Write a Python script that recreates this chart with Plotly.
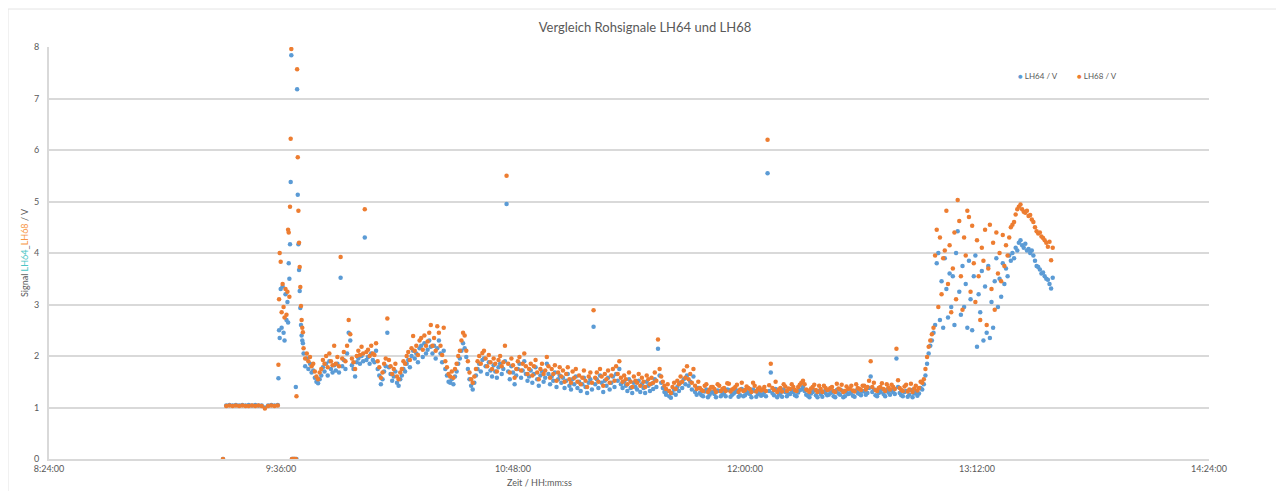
import plotly.graph_objects as go

# ---------------- data (time in minutes of day, values in V) ----------------
# flat start segment
t_flat = [558, 559, 560, 561, 562, 563, 564, 565, 566, 567, 568, 569, 570, 571, 572, 573, 574, 575]
b_flat = [0.00, 1.04, 1.05, 1.04, 1.05, 1.04, 1.05, 1.04, 1.05, 1.04, 1.05, 1.04, 1.04, 1.00, 1.04, 1.05, 1.04, 1.05]
o_flat = [0.00, 1.03, 1.04, 1.03, 1.04, 1.03, 1.04, 1.03, 1.03, 1.04, 1.03, 1.04, 1.03, 0.98, 1.03, 1.04, 1.03, 1.04]

# spike segment
t_spike = [575.2, 575.4, 575.6, 575.9, 576.2, 576.5, 576.8, 577.1, 577.4, 577.7, 578.0, 578.2, 578.4, 578.6,
           578.8, 579.0, 579.2, 579.4, 579.7, 580.0, 580.3, 580.6, 580.8, 581.0, 581.2, 581.4, 581.6, 581.8,
           582.0, 582.2, 582.4, 582.6, 582.8]
b_spike = [1.57, 2.50, 2.35, 3.30, 2.55, 3.35, 2.45, 2.30, 3.20, 2.70, 3.05, 2.65, 3.80, 3.50,
           4.17, 5.38, 7.84, 0.00, 0.00, 0.00, 0.00, 1.40, 0.00, 7.18, 5.13, 4.17, 3.67, 3.26,
           2.93, 2.60, 2.40, 2.30, 2.25]
o_spike = [1.83, 3.10, 4.00, 3.83, 2.85, 3.40, 2.95, 2.75, 3.30, 2.80, 3.25, 4.45, 4.40, 3.15,
           4.90, 6.22, 7.96, 0.00, 0.00, 0.00, 0.00, 0.00, 1.22, 7.57, 5.86, 4.82, 4.20, 3.73,
           3.34, 2.97, 2.70, 2.55, 2.46]

# main noisy band (0.5 min sampling)
t_band = [583.0, 583.5, 584.0, 584.5, 585.0, 585.5, 586.0, 586.5, 587.0, 587.5, 588.0, 588.5, 589.0, 589.5, 590.0, 590.5, 591.0, 591.5, 592.0, 592.5,
          593.0, 593.5, 594.0, 594.5, 595.0, 595.5, 596.0, 596.5, 597.0, 597.5, 598.0, 598.5, 599.0, 599.5, 600.0, 600.5, 601.0, 601.5, 602.0, 602.5,
          603.0, 603.5, 604.0, 604.5, 605.0, 605.5, 606.0, 606.5, 607.0, 607.5, 608.0, 608.5, 609.0, 609.5, 610.0, 610.5, 611.0, 611.5, 612.0, 612.5,
          613.0, 613.5, 614.0, 614.5, 615.0, 615.5, 616.0, 616.5, 617.0, 617.5, 618.0, 618.5, 619.0, 619.5, 620.0, 620.5, 621.0, 621.5, 622.0, 622.5,
          623.0, 623.5, 624.0, 624.5, 625.0, 625.5, 626.0, 626.5, 627.0, 627.5, 628.0, 628.5, 629.0, 629.5, 630.0, 630.5, 631.0, 631.5, 632.0, 632.5,
          633.0, 633.5, 634.0, 634.5, 635.0, 635.5, 636.0, 636.5, 637.0, 637.5, 638.0, 638.5, 639.0, 639.5, 640.0, 640.5, 641.0, 641.5, 642.0, 642.5,
          643.0, 643.5, 644.0, 644.5, 645.0, 645.5, 646.0, 646.5, 647.0, 647.5, 648.0, 648.5, 649.0, 649.5, 650.0, 650.5, 651.0, 651.5, 652.0, 652.5,
          653.0, 653.5, 654.0, 654.5, 655.0, 655.5, 656.0, 656.5, 657.0, 657.5, 658.0, 658.5, 659.0, 659.5, 660.0, 660.5, 661.0, 661.5, 662.0, 662.5,
          663.0, 663.5, 664.0, 664.5, 665.0, 665.5, 666.0, 666.5, 667.0, 667.5, 668.0, 668.5, 669.0, 669.5, 670.0, 670.5, 671.0, 671.5, 672.0, 672.5,
          673.0, 673.5, 674.0, 674.5, 675.0, 675.5, 676.0, 676.5, 677.0, 677.5, 678.0, 678.5, 679.0, 679.5, 680.0, 680.5, 681.0, 681.5, 682.0, 682.5,
          683.0, 683.5, 684.0, 684.5, 685.0, 685.5, 686.0, 686.5, 687.0, 687.5, 688.0, 688.5, 689.0, 689.5, 690.0, 690.5, 691.0, 691.5, 692.0, 692.5,
          693.0, 693.5, 694.0, 694.5, 695.0, 695.5, 696.0, 696.5, 697.0, 697.5, 698.0, 698.5, 699.0, 699.5, 700.0, 700.5, 701.0, 701.5, 702.0, 702.5,
          703.0, 703.5, 704.0, 704.5, 705.0, 705.5]
b_band = [2.05, 1.80, 1.95, 1.75, 1.85, 1.68, 1.72, 1.58, 1.50, 1.47, 1.55, 1.62, 1.78, 1.70, 1.85, 1.62, 1.90, 1.75, 1.68, 1.82,
          1.72, 1.85, 1.68, 3.52, 1.80, 1.92, 1.75, 2.05, 2.45, 2.30, 1.82, 1.75, 1.60, 1.88, 1.95, 1.85, 2.00, 1.90, 4.30, 1.92,
          1.98, 1.85, 2.05, 1.92, 1.88, 2.10, 1.75, 1.62, 1.45, 1.55, 1.70, 1.80, 2.45, 1.78, 1.65, 1.52, 1.60, 1.70, 1.48, 1.42,
          1.55, 1.62, 1.75, 1.70, 1.85, 1.92, 1.78, 2.00, 2.10, 1.95, 2.05, 1.88, 2.15, 2.20, 1.98, 2.25, 2.05, 2.12, 2.30, 2.18,
          2.05, 2.20, 1.95, 2.15, 2.30, 2.05, 1.88, 2.10, 1.75, 1.62, 1.50, 1.48, 1.55, 1.45, 1.60, 1.70, 1.85, 1.95, 2.10, 2.25,
          2.15, 1.98, 1.75, 1.55, 1.42, 1.35, 1.48, 1.62, 1.75, 1.85, 1.70, 1.92, 1.95, 1.80, 1.65, 1.88, 1.72, 1.60, 1.82, 1.70,
          1.58, 1.78, 1.85, 1.65, 1.75, 1.90, 4.95, 1.70, 1.55, 1.80, 1.68, 1.45, 1.62, 1.75, 1.85, 1.58, 1.72, 1.90, 1.65, 1.52,
          1.60, 1.72, 1.48, 1.65, 1.78, 1.55, 1.42, 1.62, 1.70, 1.50, 1.58, 1.85, 1.65, 1.45, 1.60, 1.52, 1.68, 1.40, 1.55, 1.62,
          1.48, 1.58, 1.38, 1.52, 1.65, 1.42, 1.35, 1.55, 1.45, 1.60, 1.38, 1.50, 1.32, 1.45, 1.58, 1.40, 1.28, 1.48, 1.55, 1.35,
          2.57, 1.45, 1.55, 1.38, 1.62, 1.48, 1.30, 1.52, 1.42, 1.58, 1.35, 1.48, 1.60, 1.40, 1.65, 1.52, 1.75, 1.45, 1.38, 1.50,
          1.42, 1.32, 1.55, 1.38, 1.28, 1.48, 1.40, 1.35, 1.52, 1.30, 1.45, 1.38, 1.28, 1.50, 1.42, 1.32, 1.46, 1.36, 1.55, 1.40,
          2.14, 1.62, 1.48, 1.38, 1.30, 1.25, 1.32, 1.22, 1.19, 1.28, 1.35, 1.25, 1.40, 1.32, 1.48, 1.38, 1.55, 1.45, 1.62, 1.42,
          1.50, 1.35, 1.60, 1.30, 1.25, 1.38]
o_band = [2.15, 1.95, 2.05, 1.90, 1.98, 1.80, 1.85, 1.70, 1.60, 1.55, 1.68, 1.75, 1.92, 1.85, 2.00, 1.78, 2.05, 1.90, 1.82, 2.20,
          1.85, 1.98, 1.80, 3.92, 1.95, 2.08, 1.90, 2.20, 2.70, 2.42, 1.95, 1.88, 1.75, 2.00, 2.10, 2.02, 2.18, 2.05, 4.85, 2.08,
          2.12, 2.00, 2.20, 2.05, 2.02, 2.25, 1.90, 1.78, 1.58, 1.68, 1.85, 1.95, 2.73, 1.92, 1.80, 1.65, 1.75, 1.85, 1.60, 1.55,
          1.68, 1.75, 1.90, 1.85, 2.00, 2.08, 1.92, 2.15, 2.39, 2.10, 2.20, 2.02, 2.30, 2.35, 2.12, 2.40, 2.20, 2.28, 2.45, 2.60,
          2.20, 2.35, 2.10, 2.58, 2.45, 2.20, 2.02, 2.55, 1.90, 1.78, 1.65, 1.60, 1.70, 1.58, 1.75, 1.85, 2.00, 2.10, 2.30, 2.45,
          2.40, 2.10, 1.90, 1.68, 1.55, 1.48, 1.60, 1.75, 1.90, 2.00, 1.85, 2.06, 2.10, 1.95, 1.80, 2.02, 1.88, 1.75, 1.95, 1.85,
          1.70, 1.92, 2.00, 1.80, 1.88, 2.20, 5.50, 1.85, 1.68, 1.95, 1.82, 1.58, 1.75, 1.90, 1.98, 1.72, 1.85, 2.05, 1.80, 1.65,
          1.75, 1.85, 1.62, 1.80, 1.92, 1.68, 1.55, 1.75, 1.85, 1.65, 1.72, 1.98, 1.80, 1.58, 1.75, 1.65, 1.82, 1.52, 1.68, 1.78,
          1.60, 1.72, 1.50, 1.65, 1.78, 1.55, 1.48, 1.70, 1.58, 1.75, 1.50, 1.62, 1.45, 1.58, 1.72, 1.52, 1.40, 1.60, 1.68, 1.48,
          2.89, 1.58, 1.68, 1.50, 1.75, 1.60, 1.42, 1.65, 1.55, 1.72, 1.48, 1.62, 1.75, 1.52, 1.80, 1.65, 1.90, 1.58, 1.50, 1.62,
          1.55, 1.45, 1.68, 1.50, 1.40, 1.60, 1.52, 1.48, 1.65, 1.42, 1.58, 1.50, 1.40, 1.62, 1.55, 1.45, 1.58, 1.48, 1.68, 1.52,
          2.32, 1.75, 1.60, 1.50, 1.42, 1.36, 1.45, 1.32, 1.28, 1.40, 1.48, 1.36, 1.52, 1.45, 1.60, 1.50, 1.72, 1.58, 1.80, 1.55,
          1.65, 1.48, 1.75, 1.42, 1.36, 1.50]

# flat low segment (full-minute samples)
t_low = [706, 707, 708, 709, 710, 711, 712, 713, 714, 715, 716, 717, 718, 719, 720, 721, 722, 723, 724, 725,
         726, 727, 728, 729, 730, 731, 732, 733, 734, 735, 736, 737, 738, 739, 740, 741, 742, 743, 744, 745,
         746, 747, 748, 749, 750, 751, 752, 753, 754, 755, 756, 757, 758, 759, 760, 761, 762, 763, 764, 765,
         766, 767, 768, 769, 770, 771, 772, 773, 774, 775]
b_low = [1.28, 1.22, 1.35, 1.25, 1.30, 1.20, 1.32, 1.26, 1.22, 1.34, 1.25, 1.30, 1.21, 1.36, 1.24, 1.28, 1.20, 1.32, 1.26, 1.23,
         1.30, 5.55, 1.68, 1.24, 1.20, 1.28, 1.35, 1.22, 1.26, 1.30, 1.22, 1.34, 1.40, 1.25, 1.20, 1.30, 1.24, 1.32, 1.21, 1.28,
         1.25, 1.30, 1.20, 1.27, 1.33, 1.22, 1.26, 1.30, 1.21, 1.28, 1.24, 1.32, 1.28, 1.60, 1.35, 1.22, 1.30, 1.26, 1.34, 1.25,
         1.30, 1.95, 1.28, 1.22, 1.32, 1.25, 1.20, 1.30, 1.27, 1.35]
o_low = [1.38, 1.32, 1.45, 1.35, 1.40, 1.30, 1.42, 1.36, 1.32, 1.46, 1.35, 1.40, 1.30, 1.48, 1.34, 1.38, 1.30, 1.42, 1.36, 1.33,
         1.40, 6.20, 1.85, 1.34, 1.30, 1.38, 1.45, 1.32, 1.36, 1.40, 1.32, 1.44, 1.52, 1.35, 1.30, 1.40, 1.34, 1.42, 1.30, 1.38,
         1.35, 1.40, 1.30, 1.37, 1.44, 1.32, 1.36, 1.42, 1.31, 1.38, 1.34, 1.42, 1.40, 1.90, 1.48, 1.32, 1.40, 1.36, 1.45, 1.35,
         1.40, 2.14, 1.38, 1.32, 1.44, 1.35, 1.30, 1.42, 1.38, 1.48]

# flat low segment (half-minute samples)
t_low2 = [706.5, 707.5, 708.5, 709.5, 710.5, 711.5, 712.5, 713.5, 714.5, 715.5,
          716.5, 717.5, 718.5, 719.5, 720.5, 721.5, 722.5, 723.5, 724.5, 725.5,
          726.5, 727.5, 728.5, 729.5, 730.5, 731.5, 732.5, 733.5, 734.5, 735.5,
          736.5, 737.5, 738.5, 739.5, 740.5, 741.5, 742.5, 743.5, 744.5, 745.5,
          746.5, 747.5, 748.5, 749.5, 750.5, 751.5, 752.5, 753.5, 754.5, 755.5,
          756.5, 757.5, 758.5, 759.5, 760.5, 761.5, 762.5, 763.5, 764.5, 765.5,
          766.5, 767.5, 768.5, 769.5, 770.5, 771.5, 772.5, 773.5, 774.5]
b_low2 = [1.24, 1.31, 1.20, 1.29, 1.26, 1.33, 1.22, 1.28, 1.35, 1.21,
          1.27, 1.33, 1.24, 1.22, 1.30, 1.26, 1.35, 1.21, 1.29, 1.25,
          1.22, 1.32, 1.28, 1.36, 1.25, 1.21, 1.30, 1.27, 1.33, 1.24,
          1.29, 1.35, 1.32, 1.23, 1.27, 1.33, 1.20, 1.26, 1.31, 1.24,
          1.28, 1.22, 1.34, 1.25, 1.20, 1.30, 1.27, 1.23, 1.33, 1.26,
          1.31, 1.25, 1.38, 1.30, 1.24, 1.28, 1.35, 1.22, 1.29, 1.33,
          1.26, 1.40, 1.24, 1.30, 1.21, 1.34, 1.27, 1.23, 1.38]
o_low2 = [1.34, 1.42, 1.30, 1.40, 1.36, 1.45, 1.32, 1.38, 1.47, 1.31,
          1.37, 1.44, 1.35, 1.32, 1.41, 1.36, 1.48, 1.31, 1.39, 1.35,
          1.32, 1.43, 1.38, 1.50, 1.35, 1.31, 1.41, 1.37, 1.45, 1.34,
          1.40, 1.48, 1.45, 1.33, 1.37, 1.44, 1.30, 1.36, 1.42, 1.34,
          1.38, 1.32, 1.46, 1.35, 1.30, 1.41, 1.37, 1.33, 1.45, 1.36,
          1.42, 1.35, 1.52, 1.40, 1.34, 1.38, 1.47, 1.32, 1.39, 1.44,
          1.36, 1.53, 1.34, 1.41, 1.31, 1.46, 1.37, 1.33, 1.50]

# rise, scatter and final curve (0.5 min sampling)
t_end = [775.5, 776.0, 776.5, 777.0, 777.5, 778.0, 778.5, 779.0, 779.5, 780.0, 780.5, 781.0, 781.5, 782.0, 782.5, 783.0, 783.5, 784.0, 784.5, 785.0,
         785.5, 786.0, 786.5, 787.0, 787.5, 788.0, 788.5, 789.0, 789.5, 790.0, 790.5, 791.0, 791.5, 792.0, 792.5, 793.0, 793.5, 794.0, 794.5, 795.0,
         795.5, 796.0, 796.5, 797.0, 797.5, 798.0, 798.5, 799.0, 799.5, 800.0, 800.5, 801.0, 801.5, 802.0, 802.5, 803.0, 803.5, 804.0, 804.5, 805.0,
         805.5, 806.0, 806.5, 807.0, 807.5, 808.0, 808.5, 809.0, 809.5, 810.0, 810.5, 811.0, 811.5, 812.0, 812.5, 813.0, 813.5, 814.0, 814.5, 815.0,
         815.5]
b_end = [1.45, 1.62, 1.85, 2.05, 2.20, 2.30, 2.45, 2.60, 3.80, 4.00, 2.70, 3.45, 2.55, 3.90, 3.30, 2.75, 3.60, 2.95, 3.55, 2.60,
         4.00, 4.42, 3.25, 2.80, 3.75, 2.95, 3.40, 2.55, 3.85, 3.10, 2.50, 3.55, 3.95, 2.18, 3.20, 2.85, 3.65, 2.30, 3.35, 2.45,
         3.75, 2.35, 3.05, 2.55, 3.45, 3.90, 2.95, 3.50, 3.15, 3.80, 3.40, 3.70, 3.55, 3.95, 3.85, 4.00, 3.90, 4.10, 4.05, 4.20,
         4.25, 4.15, 4.10, 4.18, 4.05, 4.08, 4.00, 4.05, 3.95, 3.85, 3.75, 3.73, 3.68, 3.60, 3.62, 3.55, 3.50, 3.48, 3.40, 3.31,
         3.52]
o_end = [1.55, 1.75, 1.98, 2.18, 2.30, 2.42, 2.55, 3.95, 4.45, 2.95, 4.30, 3.20, 3.90, 4.05, 4.82, 3.40, 4.15, 2.85, 3.70, 4.40,
         3.10, 5.03, 4.62, 3.55, 2.90, 4.30, 3.95, 4.82, 4.70, 3.25, 4.53, 3.80, 3.05, 4.25, 3.55, 2.70, 4.10, 3.85, 4.45, 2.60,
         3.70, 4.55, 3.30, 4.20, 2.90, 4.40, 3.60, 4.00, 3.45, 4.35, 3.75, 4.15, 3.95, 4.30, 4.50, 4.55, 4.60, 4.75, 4.85, 4.90,
         4.94, 4.85, 4.80, 4.78, 4.82, 4.72, 4.74, 4.65, 4.60, 4.50, 4.42, 4.38, 4.40, 4.32, 4.29, 4.25, 4.20, 4.12, 4.22, 3.86,
         4.10]

tick_vals = [504, 576, 648, 720, 792, 864]
tick_text = ["8:24:00", "9:36:00", "10:48:00", "12:00:00", "13:12:00", "14:24:00"]
y_ticks = [0, 1, 2, 3, 4, 5, 6, 7, 8]

names = ["LH64 / V", "LH68 / V"]
colors = ["#5b9bd5", "#ed7d31"]

# ---------------- figure ----------------
t_all = t_flat + t_spike + t_band + t_low + t_low2 + t_end
b_all = b_flat + b_spike + b_band + b_low + b_low2 + b_end
o_all = o_flat + o_spike + o_band + o_low + o_low2 + o_end

fig = go.Figure()
fig.add_trace(go.Scatter(x=t_all, y=b_all, mode="markers", name=names[0],
                         marker=dict(color=colors[0], size=4.5, line=dict(width=0))))
fig.add_trace(go.Scatter(x=t_all, y=o_all, mode="markers", name=names[1],
                         marker=dict(color=colors[1], size=4.5, line=dict(width=0))))

font_family = "Lato, 'Open Sans', sans-serif"
grid_col = "#d9d9d9"
PW, PH, L, T = 1160, 412, 41, 39


def px_x(page_x):
    return (page_x - 8 - L) / PW


def px_y(page_y):
    return 1 - (page_y - 8 - T) / PH


fig.update_layout(
    width=1268, height=483,
    margin=dict(l=L, r=67, t=T, b=32),
    paper_bgcolor="white", plot_bgcolor="white",
    font=dict(family=font_family, size=9, color="#595959"),
    title=dict(text="Vergleich Rohsignale LH64 und LH68", x=px_x(645), xref="paper", xanchor="center",
               y=1 - 19 / 483, yanchor="middle", font=dict(size=13, color="#595959", family=font_family)),
    showlegend=False,
    xaxis=dict(range=[504, 864], tickmode="array", tickvals=tick_vals, ticktext=tick_text,
               showgrid=False, zeroline=False, showline=True, linecolor=grid_col, linewidth=2,
               ticks="", tickfont=dict(size=9, color="#595959")),
    yaxis=dict(range=[0, 8], tickmode="array", tickvals=y_ticks, showgrid=True, gridcolor=grid_col,
               gridwidth=2, zeroline=False, showline=True, linecolor=grid_col, linewidth=2,
               ticks="", ticklabelstandoff=6, tickfont=dict(size=9, color="#595959"),
               title=dict(text="Signal <span style='color:#4bc6c6'>LH64</span>_<span style='color:#f79646'>LH68</span> / V",
                          font=dict(size=9, color="#595959"), standoff=4)),
)

# legend drawn as compact text entries (marker glyph + label)
legend_x = [1016, 1075]
for name, col, lx in zip(names, colors, legend_x):
    fig.add_annotation(text=f"<span style='color:{col}'>●</span> {name}", xref="paper", yref="paper",
                       x=px_x(lx), y=px_y(76), xanchor="left", yanchor="middle", showarrow=False,
                       font=dict(size=8, color="#595959"))

fig.add_annotation(text="Zeit / HH:mm:ss", xref="paper", yref="paper", x=px_x(539), y=px_y(482),
                   xanchor="center", yanchor="middle", showarrow=False, font=dict(size=9, color="#595959"))

# container border (left and top edges visible in reference)
fig.add_shape(type="line", xref="paper", yref="paper", x0=px_x(8), x1=px_x(8), y0=px_y(499), y1=px_y(9),
              line=dict(color="#e4e4e4", width=1))
fig.add_shape(type="line", xref="paper", yref="paper", x0=px_x(8), x1=px_x(1290), y0=px_y(9), y1=px_y(9),
              line=dict(color="#e4e4e4", width=1))

fig.write_html("out.html")
